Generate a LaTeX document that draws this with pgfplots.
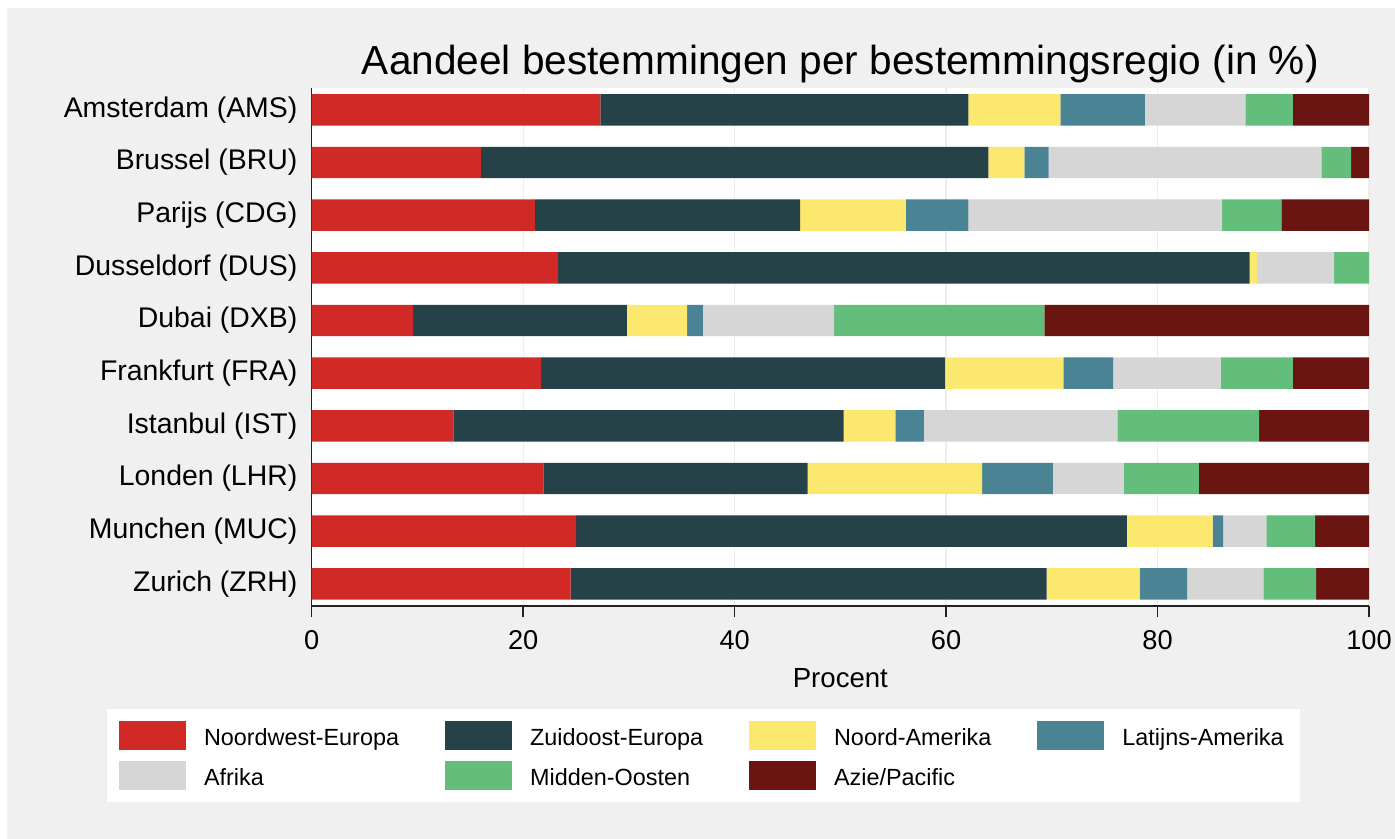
\documentclass[border=0pt]{standalone}
\usepackage{pgfplots}
\pgfplotsset{compat=1.18}
\usepackage{pgfplotstable}
\usepackage{fontspec}
\setmainfont{Liberation Sans}
\definecolor{nwred}{HTML}{D12A26}
\definecolor{zodark}{HTML}{254249}
\definecolor{nayellow}{HTML}{FDE86F}
\definecolor{lateal}{HTML}{4A8393}
\definecolor{afgray}{HTML}{D6D6D6}
\definecolor{mogreen}{HTML}{63BE7B}
\definecolor{apdark}{HTML}{6B1512}
\definecolor{bggray}{HTML}{F0F0F0}
\definecolor{axisdark}{HTML}{222222}

% y: 9 = Amsterdam (top) ... 0 = Zurich (bottom)
\pgfplotstableread{
y  nw    zo    na    la   af    mo    ap
9  27.3  34.8  8.7   8.0  9.5   4.5   7.2
8  16.0  48.0  3.4   2.3  25.8  2.8   1.7
7  21.1  25.1  10.0  5.9  24.0  5.6   8.3
6  23.3  65.4  0.7   0.0  7.3   3.3   0.0
5  9.6   20.2  5.7   1.5  12.4  19.9  30.7
4  21.7  38.2  11.2  4.7  10.2  6.8   7.2
3  13.4  36.9  4.9   2.7  18.3  13.4  10.4
2  21.9  25.0  16.5  6.7  6.7   7.1   16.1
1  25.0  52.1  8.1   1.0  4.1   4.6   5.1
0  24.5  45.0  8.8   4.5  7.2   5.0   5.0
}\shares

\begin{document}
\begin{tikzpicture}
\fill[white] (0,0) rectangle (697.5pt,419.5pt);
\fill[bggray] (3.5pt,0) rectangle (697.5pt,415.5pt);
\fill[white] (53.5pt,18.35pt) rectangle (650pt,65pt);
\useasboundingbox (0,0) rectangle (697.5pt,419.5pt);
\begin{axis}[
  at={(155.85pt,116.5pt)}, anchor=south west,
  scale only axis, width=528.65pt, height=259.15pt,
  xbar stacked, bar width=0.597,
  xmin=0, xmax=100, ymin=-0.42, ymax=9.42,
  axis background/.style={fill=white},
  axis x line*=bottom, axis y line*=left,
  axis line style={axisdark, line width=0.75pt, -},
  xtick={0,20,40,60,80,100},
  ytick={0,1,2,3,4,5,6,7,8,9},
  yticklabels={Zurich (ZRH),Munchen (MUC),Londen (LHR),Istanbul (IST),Frankfurt (FRA),Dubai (DXB),Dusseldorf (DUS),Parijs (CDG),Brussel (BRU),Amsterdam (AMS)},
  /pgf/number format/assume math mode=true,
  xmajorgrids, grid style={color=black!7, line width=0.6pt},
  tick align=outside, major tick length=5.5pt,
  xtick style={axisdark, line width=0.75pt},
  ytick style={draw=none},
  xticklabel style={font=\fontsize{13.6}{16}\selectfont, anchor=base, inner sep=0pt, yshift=-16.5pt},
  yticklabel style={font=\fontsize{14.2}{17}\selectfont, anchor=east, inner sep=0pt, xshift=-1.5pt},
  xlabel={Procent},
  xlabel style={font=\fontsize{13.8}{16}\selectfont, at={(axis description cs:0.5,0)}, anchor=base, inner sep=0pt, yshift=-40.65pt},
  title={Aandeel bestemmingen per bestemmingsregio (in \%)},
  title style={font=\fontsize{20.3}{24}\selectfont, at={(axis description cs:0.5,1)}, anchor=base, inner sep=0pt, yshift=0.4pt},
  legend columns=4,
  legend image code/.code={\fill[#1] (0pt,-2.33pt) rectangle (33.5pt,12.02pt);},
  legend style={at={(axis description cs:0,0)}, xshift=-96.35pt, yshift=-57.65pt, anchor=north west,
    draw=none, fill=none, inner sep=0pt, outer sep=0pt,
    font=\fontsize{11.7}{14}\selectfont,
    nodes={inner sep=0pt, outer sep=0pt},
    cells={anchor=base west},
    column sep=9pt, row sep=5.7pt,
    /tikz/every even column/.append style={column sep=23pt}},
]
\addplot[fill=nwred, draw=none] table[x=nw, y=y] {\shares};
\addplot[fill=zodark, draw=none] table[x=zo, y=y] {\shares};
\addplot[fill=nayellow, draw=none] table[x=na, y=y] {\shares};
\addplot[fill=lateal, draw=none] table[x=la, y=y] {\shares};
\addplot[fill=afgray, draw=none] table[x=af, y=y] {\shares};
\addplot[fill=mogreen, draw=none] table[x=mo, y=y] {\shares};
\addplot[fill=apdark, draw=none] table[x=ap, y=y] {\shares};
\legend{Noordwest-Europa,Zuidoost-Europa,Noord-Amerika,Latijns-Amerika,Afrika,Midden-Oosten,Azie/Pacific}
\end{axis}
\end{tikzpicture}
\end{document}
